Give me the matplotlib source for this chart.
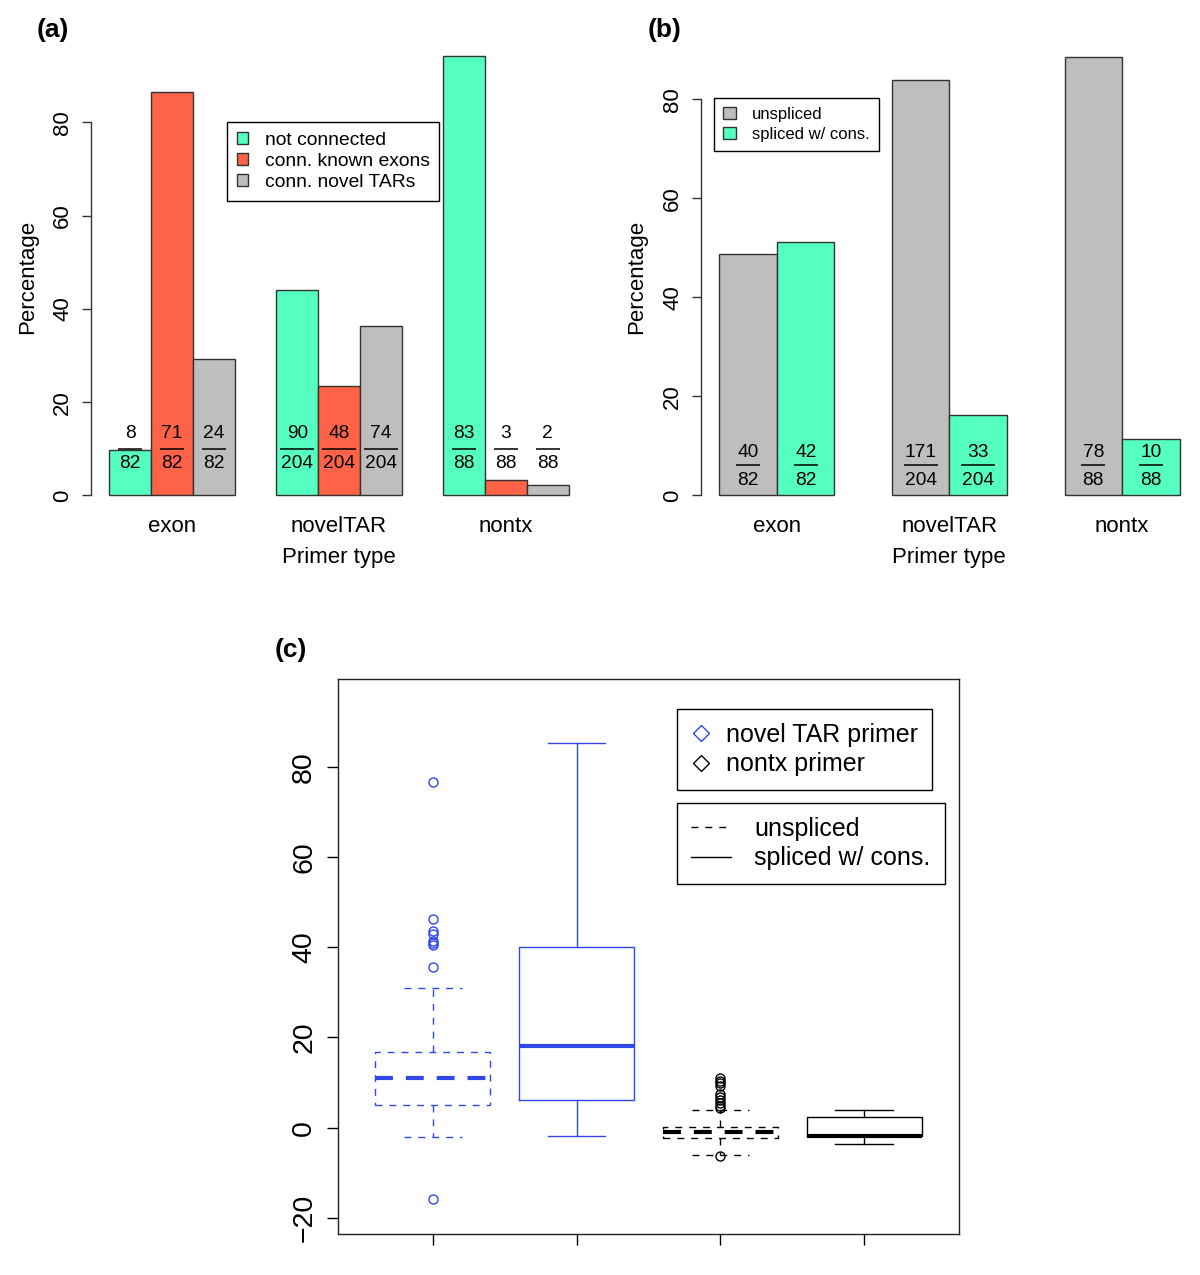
import matplotlib
matplotlib.use("Agg")
import matplotlib.pyplot as plt
from matplotlib.patches import Patch
from matplotlib.lines import Line2D

plt.rcParams['font.family'] = ['Liberation Sans', 'DejaVu Sans']

# ---- data ----
primer_types = ["exon", "novelTAR", "nontx"]
totals = [82, 204, 88]

# panel (a): connection counts per primer type
not_connected = [8, 90, 83]
conn_known_exons = [71, 48, 3]
conn_novel_tars = [24, 74, 2]

# panel (b): splicing counts per primer type
unspliced = [40, 171, 78]
spliced_cons = [42, 33, 10]

# panel (c): box statistics (novel TAR unspliced, novel TAR spliced, nontx unspliced, nontx spliced)
box_med = [11.0, 18.0, -1.0, -1.8]
box_q1 = [5.0, 6.2, -2.3, -1.8]
box_q3 = [16.8, 40.0, 0.2, 2.4]
box_lo = [-2.1, -1.8, -6.0, -3.6]
box_hi = [31.0, 85.3, 3.9, 3.8]
box_fliers = [
    [76.6, 46.3, 43.5, 43.0, 41.4, 40.9, 40.4, 35.6, -15.8],
    [],
    [11.0, 10.4, 9.8, 9.2, 7.4, 6.8, 6.1, 5.5, 4.8, 4.3, -6.3],
    [],
]

GREEN = "#55ffbf"
RED = "#ff6347"
GRAY = "#bebebe"
BLUE = "#3048e8"
EDGE = "#333333"

W, H = 1200, 1275
fig = plt.figure(figsize=(W / 100, H / 100), dpi=100)


def px_axes(l, t, r, b):
    return fig.add_axes([l / W, 1 - b / H, (r - l) / W, (b - t) / H])


def fraction(ax, x, y, num, den, fs, up, down):
    ax.annotate(str(num), (x, y), xytext=(0, up), textcoords="offset points",
                ha="center", va="baseline", fontsize=fs)
    ax.annotate(str(den), (x, y), xytext=(0, -down), textcoords="offset points",
                ha="center", va="baseline", fontsize=fs)
    wid = max(len(str(num)), len(str(den))) * 0.556 * fs + 1.5
    ax.plot([x], [y], marker="_", ms=wid, mew=1.1, color="black")


def bar_panel(ax, series, colors, nbar, frac_y, up, down):
    heights_all = []
    for k, (counts, col) in enumerate(zip(series, colors)):
        xs = [1.5 + (nbar + 1) * g + k for g in range(len(primer_types))]
        hs = [100.0 * c / t for c, t in zip(counts, totals)]
        heights_all += hs
        ax.bar(xs, hs, width=1.0, color=col, edgecolor=EDGE, linewidth=1.0)
        for x, c, t in zip(xs, counts, totals):
            fraction(ax, x, frac_y, c, t, 13.8, up, down)
    lo, hi = 1, (nbar + 1) * len(primer_types)
    ax.set_xlim(lo - 0.04 * (hi - lo), hi + 0.04 * (hi - lo))
    ymax = max(heights_all)
    ax.set_ylim(-0.04 * ymax, 1.04 * ymax)
    centers = [1 + (nbar + 1) * g + nbar / 2 for g in range(len(primer_types))]
    ax.set_xticks(centers)
    ax.set_xticklabels(primer_types)
    ax.tick_params(axis="x", length=0, pad=2, labelsize=16)
    ax.set_yticks([0, 20, 40, 60, 80])
    ax.set_yticklabels(["0", "20", "40", "60", "80"], rotation=90, va="center")
    ax.tick_params(axis="y", length=6.7, width=1.0, pad=6, labelsize=16, color=EDGE)
    for s in ["top", "right", "bottom"]:
        ax.spines[s].set_visible(False)
    ax.spines["left"].set_bounds(0, 80)
    ax.spines["left"].set_color(EDGE)
    ax.spines["left"].set_linewidth(1.0)


# ---- panel (a) ----
ax_a = px_axes(91, 38, 587, 513)
bar_panel(ax_a, [not_connected, conn_known_exons, conn_novel_tars], [GREEN, RED, GRAY], 3, 9.9, 7.9, 13.5)
leg = ax_a.legend(handles=[Patch(facecolor=c, edgecolor=EDGE, linewidth=1.0) for c in [GREEN, RED, GRAY]],
                  labels=["not connected", "conn. known exons", "conn. novel TARs"],
                  loc="upper left", bbox_to_anchor=(227 / W, 1 - 122 / H), bbox_transform=fig.transFigure,
                  fontsize=13.9, handlelength=0.6, handleheight=0.6, handletextpad=0.85, borderpad=0.5,
                  labelspacing=0.22, borderaxespad=0, fancybox=False, edgecolor="black", framealpha=1)
leg.get_frame().set_linewidth(1.0)
fig.text(28 / W, 1 - 277 / H, "Percentage", rotation=90, ha="center", va="center", fontsize=16)
fig.text(339 / W, 1 - 558 / H, "Primer type", ha="center", va="center", fontsize=16)
fig.text(37 / W, 1 - 30 / H, "(a)", ha="left", va="center", fontsize=19, fontweight="bold")

# ---- panel (b) ----
ax_b = px_axes(701, 39, 1198, 513)
bar_panel(ax_b, [unspliced, spliced_cons], [GRAY, GREEN], 2, 6.1, 6.0, 14.4)
leg = ax_b.legend(handles=[Patch(facecolor=c, edgecolor=EDGE, linewidth=1.0) for c in [GRAY, GREEN]],
                  labels=["unspliced", "spliced w/ cons."],
                  loc="upper left", bbox_to_anchor=(714 / W, 1 - 98 / H), bbox_transform=fig.transFigure,
                  fontsize=12.0, handlelength=0.75, handleheight=0.75, handletextpad=1.0, borderpad=0.55,
                  labelspacing=0.3, borderaxespad=0, fancybox=False, edgecolor="black", framealpha=1)
leg.get_frame().set_linewidth(1.0)
fig.text(637 / W, 1 - 277 / H, "Percentage", rotation=90, ha="center", va="center", fontsize=16)
fig.text(949 / W, 1 - 558 / H, "Primer type", ha="center", va="center", fontsize=16)
fig.text(648 / W, 1 - 30 / H, "(b)", ha="left", va="center", fontsize=19, fontweight="bold")

# ---- panel (c) ----
ax_c = px_axes(338, 679, 959, 1234)
box_colors = [BLUE, BLUE, "black", "black"]
box_dashed = [True, False, True, False]
positions = list(range(1, len(box_med) + 1))
for i, pos in enumerate(positions):
    col = box_colors[i]
    ls = (0, (5, 5)) if box_dashed[i] else "-"
    mls = (0, (4.3, 3.1)) if box_dashed[i] else "-"
    st = dict(med=box_med[i], q1=box_q1[i], q3=box_q3[i], whislo=box_lo[i], whishi=box_hi[i],
              fliers=box_fliers[i])
    line = dict(color=col, linewidth=1.0, linestyle=ls)
    ax_c.bxp([st], positions=[pos], widths=0.8, capwidths=0.4, manage_ticks=False,
             boxprops=line, whiskerprops=line, capprops=line,
             medianprops=dict(color=col, linewidth=3.0, linestyle=mls, solid_capstyle="butt"),
             flierprops=dict(marker="o", markerfacecolor="none", markeredgecolor=col,
                             markersize=6.5, markeredgewidth=1.0, linestyle="none"))
ax_c.set_xlim(0.5 - 0.04 * 4, len(positions) + 0.5 + 0.04 * 4)
ax_c.set_ylim(-23.6, 99.5)
ax_c.set_xticks(positions)
ax_c.tick_params(axis="x", length=8, width=1.0, labelbottom=False)
ax_c.set_yticks([-20, 0, 20, 40, 60, 80])
ax_c.set_yticklabels(["\u221220", "0", "20", "40", "60", "80"], rotation=90, va="center")
ax_c.tick_params(axis="y", length=8, width=1.0, pad=7, labelsize=20.5)
for s in ax_c.spines.values():
    s.set_linewidth(1.0)
    s.set_color("#222222")

leg1 = ax_c.legend(handles=[Line2D([], [], marker="D", ls="none", mfc="none", mec=BLUE, ms=8, mew=1.0),
                            Line2D([], [], marker="D", ls="none", mfc="none", mec="black", ms=8, mew=1.0)],
                   labels=["novel TAR primer", "nontx primer"],
                   loc="upper left", bbox_to_anchor=(677 / W, 1 - 709 / H), bbox_transform=fig.transFigure,
                   fontsize=18, handlelength=0.8, handletextpad=0.6, borderpad=0.55, labelspacing=0.22,
                   borderaxespad=0, fancybox=False, edgecolor="black", framealpha=1)
leg1.get_frame().set_linewidth(1.0)
ax_c.add_artist(leg1)
leg2 = ax_c.legend(handles=[Line2D([], [], color="black", lw=1.0, ls=(0, (5, 5))),
                            Line2D([], [], color="black", lw=1.0)],
                   labels=["unspliced", "spliced w/ cons."],
                   loc="upper left", bbox_to_anchor=(677 / W, 1 - 803 / H), bbox_transform=fig.transFigure,
                   fontsize=18, handlelength=1.6, handletextpad=0.95, borderpad=0.55, labelspacing=0.22,
                   borderaxespad=0, fancybox=False, edgecolor="black", framealpha=1)
leg2.get_frame().set_linewidth(1.0)
fig.text(275 / W, 1 - 650 / H, "(c)", ha="left", va="center", fontsize=19, fontweight="bold")

fig.savefig("out.png", dpi=100)
